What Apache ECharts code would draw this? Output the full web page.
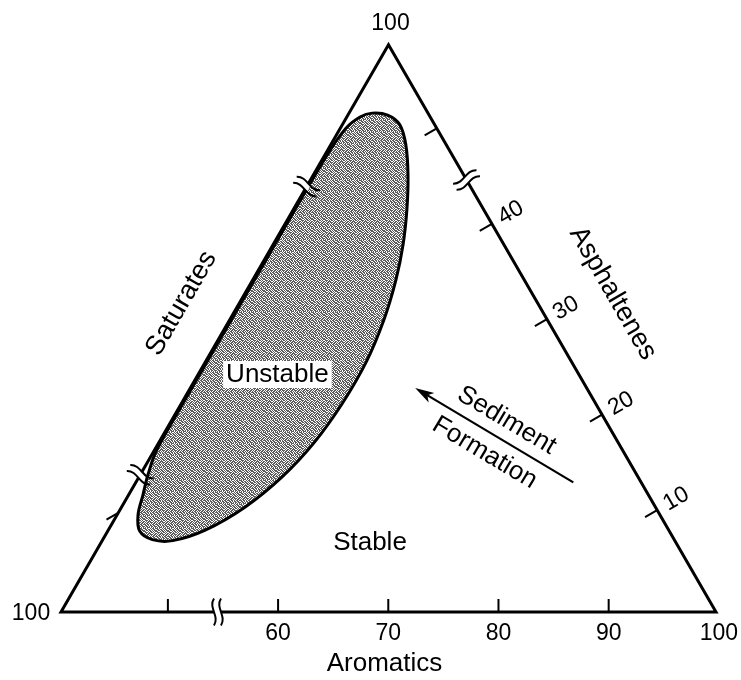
<!DOCTYPE html>
<html>
<head>
<meta charset="utf-8">
<script src="https://cdn.jsdelivr.net/npm/echarts@6/dist/echarts.min.js"></script>
<style>
html, body { margin: 0; padding: 0; background: #fff; }
#chart { width: 741px; height: 680px; }
</style>
</head>
<body>
<div id="chart"></div>
<script>
// ---------------- data ----------------
const aromaticsTicks = [50, 60, 70, 80, 90];
const aromaticsLabels = [60, 70, 80, 90, 100];
const asphaltenesTicks = [10, 20, 30, 40, 50];
const asphaltenesLabels = [10, 20, 30, 40];
const saturatesTicks = [50];
const cornerLabels = ['100', '100'];            // Saturates corner, Asphaltenes corner
const axisTitles = ['Aromatics', 'Asphaltenes', 'Saturates'];
const aromaticsBreaks = [54.5];
const asphaltenesBreaks = [44.6];
const saturatesBreaks = [46.0, 15.8];
// boundary of the "Unstable" region (Aromatics %, Asphaltenes %)
const unstableAromatics = [42.4, 43.9, 45.5, 47.1, 48.9, 50.6, 52.1, 53.3, 54.3, 54.9, 54.9, 54.4, 53.3, 51.5,
                           49.1, 46.7, 44.8, 43.2, 42.2, 41.6, 41.0, 40.5, 40.45, 40.45, 40.45, 40.5, 40.8, 41.5];
const unstableAsphaltenes = [51.6, 51.4, 50.4, 48.3, 45.1, 41.5, 37.8, 34.1, 29.9, 25.5, 21.2, 17.1, 13.5, 10.3,
                             7.9, 6.8, 6.9, 7.8, 9.5, 11.6, 13.7, 16.3, 23.1, 32.0, 40.9, 47.2, 50.0, 51.2];
const regionNames = ['Unstable', 'Stable'];
const regionAromatics = [47.5, 64.7];
const regionAsphaltenes = [24.2, 6.6];
const arrowAromatics = [80.0, 60.7];      // tail, head
const arrowAsphaltenes = [12.9, 22.8];
const arrowTexts = ['Sediment', 'Formation'];
const arrowTextAromatics = [70.7, 70.4];
const arrowTextAsphaltenes = [19.4, 16.0];

// ---------------- ternary scale (broken axes, Aromatics-rich corner) ----------------
const SQ3 = Math.sqrt(3);
const AROM_MIN = 40.3, ASPH_MIN = -0.68, SPAN = 59.44, H = 50 * SQ3;
function toXY(a, p) {
  const fa = (a - AROM_MIN) / SPAN, fp = (p - ASPH_MIN) / SPAN;
  return [100 * fa + 50 * fp, H * fp];
}
const bottomEdge = a => toXY(a, ASPH_MIN);
const rightEdge = p => toXY(AROM_MIN + SPAN - (p - ASPH_MIN), p);
const leftEdge = s => toXY(AROM_MIN, 100 - AROM_MIN - s);
const corners = [toXY(AROM_MIN, ASPH_MIN), toXY(AROM_MIN + SPAN, ASPH_MIN), toXY(AROM_MIN, ASPH_MIN + SPAN)];

const FONT = '"Liberation Sans", Arial, Helvetica, sans-serif';
const EDGE = [
  { t: [1, 0], n: [0, 1] },                  // bottom (Aromatics)
  { t: [-0.5, -SQ3 / 2], n: [SQ3 / 2, -0.5] },// right (Asphaltenes)
  { t: [0.5, -SQ3 / 2], n: [-SQ3 / 2, -0.5] } // left (Saturates)
];

function makePattern() {
  const bits = [
    '110100101101', '011011010110', '101101101011', '110010110101',
    '011101011010', '101011100101', '010110111011', '101101010110',
    '110110101101', '011010110110', '101101011011', '010111010101'];
  const c = document.createElement('canvas');
  c.width = 12; c.height = 12;
  const ctx = c.getContext('2d');
  ctx.fillStyle = '#ffffff'; ctx.fillRect(0, 0, 12, 12);
  ctx.fillStyle = '#5c5c5c';
  bits.forEach((row, y) => { for (let x = 0; x < 12; x++) if (row[x] === '1') ctx.fillRect(x, y, 1, 1); });
  return c;
}
const pattern = makePattern();

function txt(x, y, text, size, rot, extra) {
  return {
    type: 'text', x: x, y: y, rotation: rot || 0,
    style: Object.assign({ text: text, font: size + 'px ' + FONT, fill: '#000',
      align: 'center', verticalAlign: 'middle', textAlign: 'center', textVerticalAlign: 'middle' }, extra || {})
  };
}

// ---------------- series data built from the arrays ----------------
const tickData = [
  ...aromaticsTicks.map(v => [...bottomEdge(v), 0]),
  ...asphaltenesTicks.map(v => [...rightEdge(v), 1]),
  ...saturatesTicks.map(v => [...leftEdge(v), 2])
];
const TICK_VEC = [[0, -13], [-12.1, 7], [-11.7, 6.75]];

const tickLabelData = [
  ...aromaticsLabels.map((v, i) => [...bottomEdge(v), 0, i]),
  ...asphaltenesLabels.map((v, i) => [...rightEdge(v), 1, i])
];

const breakData = [
  ...aromaticsBreaks.map(v => [...bottomEdge(v), 0]),
  ...asphaltenesBreaks.map(v => [...rightEdge(v), 1]),
  ...saturatesBreaks.map(v => [...leftEdge(v), 2])
];

const option = {
  animation: false,
  backgroundColor: '#fff',
  grid: { left: 61, right: 25, top: 44.8, bottom: 68 },
  xAxis: { type: 'value', min: 0, max: 100, show: false },
  yAxis: { type: 'value', min: 0, max: H, show: false },
  series: [
    { // unstable region
      type: 'custom', coordinateSystem: 'cartesian2d', clip: false, z: 1,
      data: [[50, 40]],
      renderItem: (params, api) => ({
        type: 'polygon',
        shape: { points: unstableAromatics.map((a, i) => api.coord(toXY(a, unstableAsphaltenes[i]))), smooth: 0.35 },
        style: { fill: { image: pattern, repeat: 'repeat' }, stroke: '#000', lineWidth: 3 }
      })
    },
    { // triangle
      type: 'custom', coordinateSystem: 'cartesian2d', clip: false, z: 2,
      data: [[50, 40]],
      renderItem: (params, api) => ({
        type: 'polygon',
        shape: { points: corners.map(c => api.coord(c)) },
        style: { fill: 'none', stroke: '#000', lineWidth: 3, lineJoin: 'miter' }
      })
    },
    { // ticks
      type: 'custom', coordinateSystem: 'cartesian2d', clip: false, z: 3,
      data: tickData,
      renderItem: (params, api) => {
        const pt = api.coord([api.value(0), api.value(1)]);
        const d = TICK_VEC[api.value(2)];
        return { type: 'line', shape: { x1: pt[0], y1: pt[1], x2: pt[0] + d[0], y2: pt[1] + d[1] },
                 style: { stroke: '#000', lineWidth: 2 } };
      }
    },
    { // tick labels
      type: 'custom', coordinateSystem: 'cartesian2d', clip: false, z: 3,
      data: tickLabelData,
      renderItem: (params, api) => {
        const pt = api.coord([api.value(0), api.value(1)]);
        const k = api.value(2), i = api.value(3);
        if (k === 0) return txt(pt[0], pt[1] + 22, String(aromaticsLabels[i]), 23, 0);
        const n = EDGE[1].n;
        return txt(pt[0] + n[0] * 22, pt[1] + n[1] * 22, String(asphaltenesLabels[i]), 23, Math.PI / 6);
      }
    },
    { // axis breaks
      type: 'custom', coordinateSystem: 'cartesian2d', clip: false, z: 4,
      data: breakData,
      renderItem: (params, api) => {
        const c = api.coord([api.value(0), api.value(1)]);
        const e = EDGE[api.value(2)];
        const t = e.t, u = [-e.n[0], -e.n[1]];
        const L = 13.5, A = 6, g = 3.5;
        const P = (s, v, w) => [c[0] + s * t[0] + v * u[0] + w * t[0], c[1] + s * t[1] + v * u[1] + w * t[1]];
        const children = [{ type: 'line', shape: { x1: c[0] - g * t[0], y1: c[1] - g * t[1], x2: c[0] + g * t[0], y2: c[1] + g * t[1] },
                            style: { stroke: '#fff', lineWidth: 6 } }];
        [-g, g].forEach(s => {
          const p0 = P(s, -L, 0), p1 = P(s, -0.3 * L, A), p2 = P(s, 0.3 * L, -A), p3 = P(s, L, 0);
          children.push({ type: 'bezierCurve',
            shape: { x1: p0[0], y1: p0[1], cpx1: p1[0], cpy1: p1[1], cpx2: p2[0], cpy2: p2[1], x2: p3[0], y2: p3[1] },
            style: { stroke: '#000', lineWidth: 2, fill: 'none' } });
        });
        return { type: 'group', children: children };
      }
    },
    { // arrow
      type: 'custom', coordinateSystem: 'cartesian2d', clip: false, z: 3,
      data: [[50, 40]],
      renderItem: (params, api) => {
        const tail = api.coord(toXY(arrowAromatics[0], arrowAsphaltenes[0]));
        const head = api.coord(toXY(arrowAromatics[1], arrowAsphaltenes[1]));
        const dx = head[0] - tail[0], dy = head[1] - tail[1], len = Math.hypot(dx, dy);
        const d = [dx / len, dy / len], q = [-d[1], d[0]];
        const hl = 19, hw = 5.5;
        return { type: 'group', children: [
          { type: 'line', shape: { x1: tail[0], y1: tail[1], x2: head[0] - d[0] * 12, y2: head[1] - d[1] * 12 },
            style: { stroke: '#000', lineWidth: 2.2 } },
          { type: 'polygon', shape: { points: [
              head,
              [head[0] - d[0] * hl + q[0] * hw, head[1] - d[1] * hl + q[1] * hw],
              [head[0] - d[0] * hl * 0.75, head[1] - d[1] * hl * 0.75],
              [head[0] - d[0] * hl - q[0] * hw, head[1] - d[1] * hl - q[1] * hw]] },
            style: { fill: '#000' } }
        ] };
      }
    },
    { // annotations, axis titles, corner labels
      type: 'custom', coordinateSystem: 'cartesian2d', clip: false, z: 5,
      data: [[50, 40]],
      renderItem: (params, api) => {
        const ch = [];
        const tail = api.coord(toXY(arrowAromatics[0], arrowAsphaltenes[0]));
        const head = api.coord(toXY(arrowAromatics[1], arrowAsphaltenes[1]));
        const rot = Math.atan2(-(head[1] - tail[1]), -(head[0] - tail[0]));
        regionNames.forEach((name, i) => {
          const p = api.coord(toXY(regionAromatics[i], regionAsphaltenes[i]));
          ch.push(txt(p[0], p[1], name, 26, 0, i === 0 ? { backgroundColor: '#fff', padding: [1, 3, 0, 3] } : {}));
        });
        arrowTexts.forEach((name, i) => {
          const p = api.coord(toXY(arrowTextAromatics[i], arrowTextAsphaltenes[i]));
          ch.push(txt(p[0], p[1], name, 26, -rot));
        });
        const cp = corners.map(c => api.coord(c));
        const mid = (a, b) => [(a[0] + b[0]) / 2, (a[1] + b[1]) / 2];
        const mb = mid(cp[0], cp[1]), mr = mid(cp[1], cp[2]), ml = mid(cp[0], cp[2]);
        ch.push(txt(mb[0] - 4, mb[1] + 52, axisTitles[0], 26, 0));
        ch.push(txt(mr[0] + EDGE[1].n[0] * 70, mr[1] + EDGE[1].n[1] * 70, axisTitles[1], 27, -Math.PI / 3));
        ch.push(txt(ml[0] + EDGE[2].n[0] * 50, ml[1] + EDGE[2].n[1] * 50, axisTitles[2], 27, Math.PI / 3));
        ch.push(txt(cp[0][0] - 30, cp[0][1] + 2, cornerLabels[0], 23, 0));
        ch.push(txt(cp[2][0] + 2, cp[2][1] - 21, cornerLabels[1], 23, 0));
        return { type: 'group', children: ch };
      }
    }
  ]
};

const chart = echarts.init(document.getElementById('chart'), null, { renderer: 'canvas' });
chart.setOption(option);
</script>
</body>
</html>
